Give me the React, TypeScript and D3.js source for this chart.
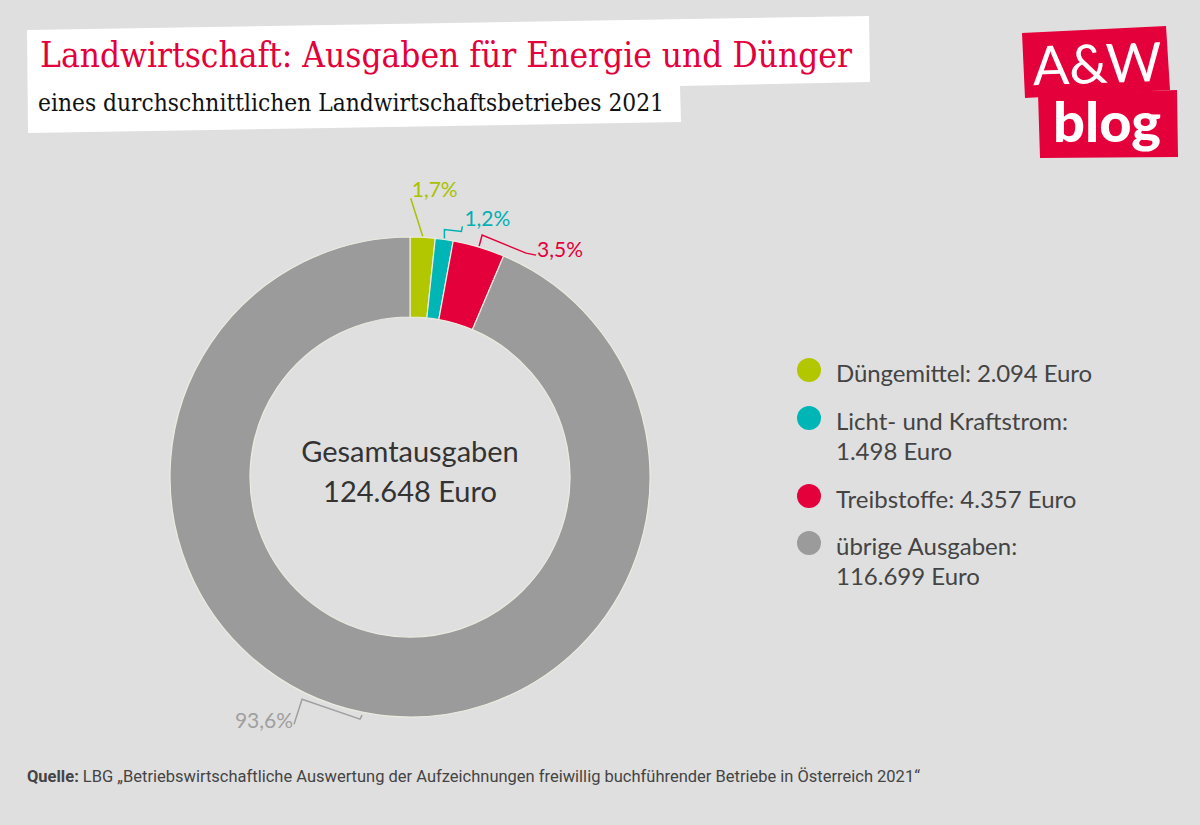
import React from "react";
import * as d3 from "d3";

const categories = ["Düngemittel", "Licht- und Kraftstrom", "Treibstoffe", "übrige Ausgaben"];
const values = [2094, 1498, 4357, 116699];
const percentLabels = ["1,7%", "1,2%", "3,5%", "93,6%"];
const legendLines = [
  ["Düngemittel: 2.094 Euro"],
  ["Licht- und Kraftstrom:", "1.498 Euro"],
  ["Treibstoffe: 4.357 Euro"],
  ["übrige Ausgaben:", "116.699 Euro"],
];
const colors = ["#b2c700", "#00b5b6", "#e4003a", "#9b9b9b"];
const labelColors = ["#a9c100", "#00b0b2", "#e4003a", "#a0a0a0"];
const centerLines = ["Gesamtausgaben", "124.648 Euro"];

const W = 1200, H = 825;
const cx = 410, cy = 477, R = 240, r = 160;
const SANS = "Lato, 'Noto Sans', sans-serif";
const SERIF = "'DejaVu Serif', 'Liberation Serif', serif";

// leader path offsets relative to anchor, and label position relative to anchor
const leaders: { pts: [number, number][]; lab: [number, number]; anchor: string }[] = [
  { pts: [[0, 0], [-12, -38]], lab: [-11, -39], anchor: "start" },
  { pts: [[0, 0], [0, -9], [17, -7], [18, -12]], lab: [20, -12], anchor: "start" },
  { pts: [[0, 0], [3, -11], [47, 7], [57, 9]], lab: [58, 11], anchor: "start" },
  { pts: [[0, 2], [-2, 6], [-60, -14], [-68, 11]], lab: [-69, 15], anchor: "end" },
];

export default function App() {
  const pie = d3.pie<number>().sort(null).value((d) => d).startAngle(0).endAngle(2 * Math.PI);
  const arcs = pie(values);
  const arc = d3.arc<d3.PieArcDatum<number>>().innerRadius(r).outerRadius(R);

  const legendY = [370, 418, 496, 543];
  const line = d3.line();

  return (
    <svg width={W} height={H} style={{ position: "absolute", left: 0, top: 0 }}>
      <rect width={W} height={H} fill="#dfdfdf" />
      {/* title box */}
      <polygon points="27,30 869,16 870,82 680,86 681,122 28,133" fill="#ffffff" />
      <text x={40} y={67} fontFamily={SERIF} fontSize={36} fill="#e4003a" textLength={812} lengthAdjust="spacingAndGlyphs">
        Landwirtschaft: Ausgaben für Energie und Dünger
      </text>
      <text x={38} y={111} fontFamily={SERIF} fontSize={25} fill="#111" textLength={626} lengthAdjust="spacingAndGlyphs">
        eines durchschnittlichen Landwirtschaftsbetriebes 2021
      </text>
      {/* logo */}
      <polygon points="1022,33 1166,26 1170,90 1025,98" fill="#e4003a" />
      <polygon points="1038,94 1177,90 1178,157 1040,158" fill="#e4003a" />
      <text x={1097} y={83} textAnchor="middle" fontFamily={SANS} fontWeight={400} fontSize={54} fill="#fff" transform="rotate(-2 1097 60)">
        A&amp;W
      </text>
      <text x={1107} y={142} textAnchor="middle" fontFamily={SANS} fontWeight={900} fontSize={56} fill="#fff">
        blog
      </text>

      {/* donut */}
      <g transform={`translate(${cx},${cy})`}>
        {arcs.map((a, i) => (
          <path key={categories[i]} d={arc(a) || ""} fill={colors[i]} stroke="#ecebe0" strokeWidth={1.2} />
        ))}
        {arcs.map((a, i) => {
          const mid = (a.startAngle + a.endAngle) / 2;
          const ax = Math.sin(mid) * (R + 1);
          const ay = -Math.cos(mid) * (R + 1);
          const L = leaders[i];
          const pts = L.pts.map(([dx, dy]) => [ax + dx, ay + dy] as [number, number]);
          return (
            <g key={"l" + i}>
              <path d={line(pts) || ""} fill="none" stroke={labelColors[i]} strokeWidth={1.5} />
              <text x={ax + L.lab[0]} y={ay + L.lab[1]} textAnchor={L.anchor} fontFamily={SANS} fontSize={21} fill={labelColors[i]}>
                {percentLabels[i]}
              </text>
            </g>
          );
        })}
        {centerLines.map((t, i) => (
          <text key={t} x={0} y={-15 + i * 40} textAnchor="middle" fontFamily={SANS} fontSize={29} fill="#333">
            {t}
          </text>
        ))}
      </g>

      {/* legend */}
      {legendLines.map((lines, i) => (
        <g key={"lg" + i}>
          <circle cx={809} cy={legendY[i]} r={12} fill={colors[i]} />
          {lines.map((t, j) => (
            <text key={t} x={836} y={legendY[i] + 12 + j * 30} fontFamily={SANS} fontSize={24} fill="#444" textLength={j === 0 && i === 0 ? 256 : undefined}>
              {t}
            </text>
          ))}
        </g>
      ))}

      {/* footer */}
      <text x={27} y={782} fontFamily="'Liberation Sans Narrow', Roboto, sans-serif" fontSize={17} fill="#444" textLength={893} lengthAdjust="spacingAndGlyphs">
        <tspan fontWeight={700}>Quelle:</tspan> LBG „Betriebswirtschaftliche Auswertung der Aufzeichnungen freiwillig buchführender Betriebe in Österreich 2021“
      </text>
    </svg>
  );
}
